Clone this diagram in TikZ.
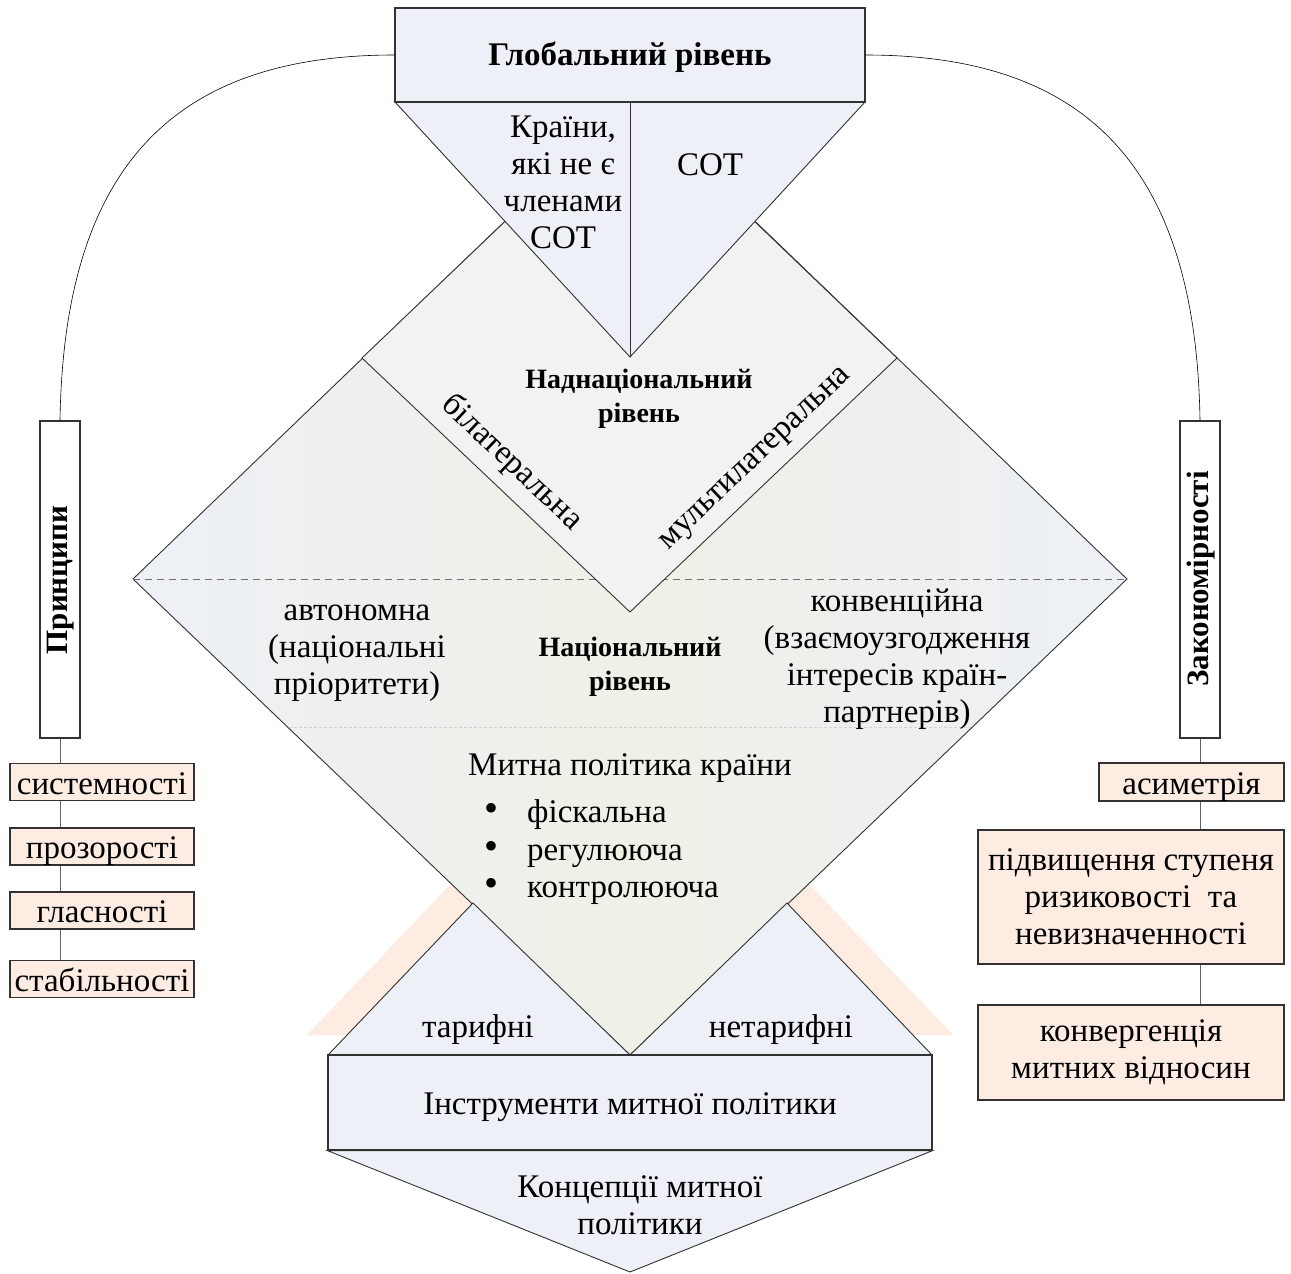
\documentclass[tikz,border=0pt]{standalone}
\usepackage{fontspec}
\setmainfont{Liberation Serif}
\definecolor{bgblue}{RGB}{237,240,246}
\definecolor{supragrey}{RGB}{242,242,242}
\definecolor{cream}{RGB}{239,240,230}
\definecolor{peach}{RGB}{252,236,225}
\definecolor{edgegrey}{RGB}{50,50,50}
\definecolor{conngrey}{RGB}{100,100,100}
\tikzset{
  shapeline/.style={draw=edgegrey, line width=0.9pt, line join=miter},
  boxnode/.style={draw=edgegrey, line width=1.2pt, inner sep=0pt},
  peachbox/.style={boxnode, fill=peach},
  txt/.style={font=\fontsize{33}{37}\selectfont, align=center, inner sep=0pt},
  txtone/.style={font=\fontsize{33}{37}\selectfont, inner sep=0pt, text height=24pt, text depth=0pt},
  boldtxt/.style={font=\fontsize{28}{34}\selectfont\bfseries, align=center, inner sep=0pt},
  vtxt/.style={font=\fontsize{31}{37}\selectfont\bfseries, inner sep=0pt, rotate=90},
  bulletmark/.style={font=\fontsize{40}{40}\selectfont, inner sep=0pt},
  conn/.style={draw=conngrey, line width=1pt},
  curveconn/.style={draw=black, line width=0.6pt},
}
\begin{document}
\begin{tikzpicture}[x=1pt,y=-1pt]
\useasboundingbox (0,0) rectangle (1291,1274);
% key coordinates
\coordinate (bigT) at (630,101);
\coordinate (bigR) at (1127,579);
\coordinate (bigB) at (630,1055);
\coordinate (bigL) at (133,579);
\coordinate (supT) at (630,102);
\coordinate (supR) at (897,358);
\coordinate (supB) at (630,612);
\coordinate (supL) at (362,358);
% peach background triangle
\fill[peach] (307,1035) -- (953,1035) -- (630,696) -- cycle;
% big (national) diamond
\path[shapeline, left color=bgblue, right color=bgblue, middle color=cream]
  (bigT) -- (bigR) -- (bigB) -- (bigL) -- cycle;
\draw[draw=edgegrey!70, line width=0.9pt, dash pattern=on 7pt off 5pt] (bigL) -- (bigR);
\coordinate (fL) at (289,727);
\coordinate (fR) at (971,727);
\draw[draw=gray!35, line width=0.7pt, dash pattern=on 3pt off 2pt] (fL) -- (fR);
% supranational diamond
\path[shapeline, fill=supragrey] (supT) -- (supR) -- (supB) -- (supL) -- cycle;
% global triangle
\coordinate (triL) at (395,102);
\coordinate (triR) at (865,102);
\coordinate (triB) at (630,357);
\path[shapeline, fill=bgblue] (triL) -- (triR) -- (triB) -- cycle;
\draw[shapeline] (supT) -- (triB);
% global box
\node[boxnode, fill=bgblue, minimum width=470pt, minimum height=94pt, txtone,
      text height=24pt, text depth=3pt,
      font=\fontsize{33}{37}\selectfont\bfseries] (glob) at (630,55) {Глобальний рівень};
% tariff triangles
\coordinate (tL) at (328,1055);
\coordinate (tA) at (473,903);
\coordinate (tM) at (630,1055);
\coordinate (nA) at (787,903);
\coordinate (nR) at (932,1055);
\path[shapeline, fill=bgblue] (tL) -- (tA) -- (tM) -- cycle;
\path[shapeline, fill=bgblue] (tM) -- (nA) -- (nR) -- cycle;
% instruments box
\node[boxnode, fill=bgblue, minimum width=604pt, minimum height=95pt, txtone] (instr) at (630,1102.5) {Інструменти митної політики};
% concepts pentagon
\coordinate (cB) at (630,1272);
\path[shapeline, fill=bgblue] (instr.south west) -- (cB) -- (instr.south east) -- cycle;
% texts
\node[txt] (nonwto) at (563,182) {Країни,\\які не є\\членами\\СОТ};
\node[txtone] (wto) at (710,163) {СОТ};
\node[boldtxt] (supra) at (639,399) {Наднаціональний\\рівень};
\node[txt, rotate=-43.5] (bilat) at (512,463) {білатеральна};
\node[txt, rotate=43.5] (multi) at (757,460) {мультилатеральна};
\node[txt] (auton) at (357,653) {автономна\\(національні\\пріоритети)};
\node[txt] (conv) at (897,659) {конвенційна\\(взаємоузгодження\\інтересів країн-\\партнерів)};
\node[boldtxt] (nat) at (630,667) {Національний\\рівень};
\node[txtone] (mytna) at (630,763) {Митна політика країни};
\node[bulletmark] (b1) at (491,812) {•};
\node[bulletmark] (b2) at (491,850) {•};
\node[bulletmark] (b3) at (491,887) {•};
\node[txtone, anchor=west] (l1) at (527,810) {фіскальна};
\node[txtone, anchor=west] (l2) at (527,848) {регулююча};
\node[txtone, anchor=west] (l3) at (527,885) {контролююча};
\node[txtone] (tarif) at (478,1025) {тарифні};
\node[txtone] (ntarif) at (781,1025) {нетарифні};
\node[txt] (conc) at (640,1205) {Концепції митної\\політики};
% left column
\node[boxnode, fill=white, minimum width=40pt, minimum height=317pt] (princ) at (60,579.5) {};
\node[vtxt] (princt) at (61,580) {Принципи};
\node[peachbox, txtone, minimum width=184pt, minimum height=37pt] (sys) at (102,782) {системності};
\node[peachbox, txtone, minimum width=184pt, minimum height=37pt] (proz) at (102,846.5) {прозорості};
\node[peachbox, txtone, minimum width=184pt, minimum height=37pt] (glas) at (102,910.5) {гласності};
\node[peachbox, txtone, minimum width=184pt, minimum height=37pt] (stab) at (102,979) {стабільності};
% right column
\node[boxnode, fill=white, minimum width=40pt, minimum height=317pt] (zak) at (1200,579.5) {};
\node[vtxt] (zakt) at (1201,579) {Закономірності};
\node[peachbox, txtone, minimum width=185pt, minimum height=38pt] (asym) at (1191.5,782) {асиметрія};
\node[peachbox, txt, minimum width=306pt, minimum height=134pt] (risk) at (1131,897) {підвищення ступеня\\ризиковості~ та\\невизначенності};
\node[peachbox, txt, minimum width=306pt, minimum height=95pt] (convg) at (1131,1052.5) {конвергенція\\митних відносин};
% connectors
\draw[curveconn] (glob.west) .. controls (180,55) and (64,160) .. (princ.north);
\draw[curveconn] (glob.east) .. controls (1080,55) and (1196,160) .. (zak.north);
\draw[conn] (princ.south) -- (princ.south |- sys.north);
\draw[conn] (princ.south |- sys.south) -- (princ.south |- proz.north);
\draw[conn] (princ.south |- proz.south) -- (princ.south |- glas.north);
\draw[conn] (princ.south |- glas.south) -- (princ.south |- stab.north);
\draw[conn] (zak.south) -- (zak.south |- asym.north);
\draw[conn] (zak.south |- asym.south) -- (zak.south |- risk.north);
\draw[conn] (zak.south |- risk.south) -- (zak.south |- convg.north);
\end{tikzpicture}
\end{document}
